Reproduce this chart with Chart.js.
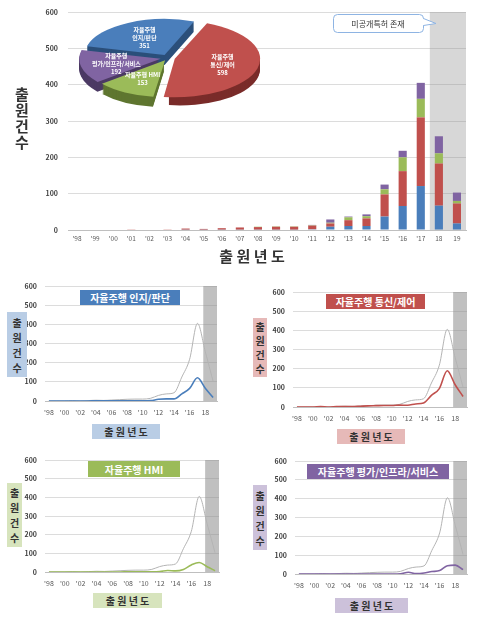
<!DOCTYPE html>
<html>
<head>
<meta charset="utf-8">
<script src="https://cdn.jsdelivr.net/npm/chart.js@4.4.1/dist/chart.umd.min.js"></script>
<style>
  body { margin: 0; width: 478px; height: 619px; position: relative; background: #fff; overflow: hidden; font-family: 'Noto Sans CJK KR', sans-serif; }
  canvas { position: absolute; }
  .box { position: absolute; display: flex; align-items: center; justify-content: center; font-weight: bold; white-space: nowrap; }
  .vt { position: absolute; text-align: center; font-weight: bold; color: #333; }
</style>
</head>
<body>
<canvas id="main" width="478" height="270" style="left:0;top:0"></canvas>
<canvas id="pie" width="190" height="190" style="left:73px;top:0;pointer-events:none"></canvas>
<canvas id="p1" width="230" height="145" style="left:0;top:280px"></canvas>
<canvas id="p2" width="238" height="145" style="left:240px;top:285px"></canvas>
<canvas id="p3" width="232" height="145" style="left:0;top:452px"></canvas>
<canvas id="p4" width="238" height="145" style="left:240px;top:453px"></canvas>

<div class="vt" style="left:10px;top:86px;width:24px;font-size:15px;line-height:16px">출<br>원<br>건<br>수</div>
<div class="vt" style="left:200px;top:246px;width:104px;font-size:15px;line-height:20px">출 원 년 도</div>

<div class="box" style="left:80px;top:290px;width:100px;height:15px;background:#4a7ebb;color:#fff;font-size:10px">자율주행 인지/판단</div>
<div class="box" style="left:7px;top:312px;width:20px;height:65px;background:#b9cde5;color:#333;font-size:10px;line-height:15px;text-align:center">출<br>원<br>건<br>수</div>
<div class="box" style="left:92px;top:424px;width:68px;height:15px;background:#b9cde5;color:#333;font-size:10px">출 원 년 도</div>

<div class="box" style="left:326px;top:294px;width:99px;height:15px;background:#c0504d;color:#fff;font-size:10px">자율주행 통신/제어</div>
<div class="box" style="left:253px;top:318px;width:14px;height:59px;background:#e6b9b8;color:#333;font-size:10px;line-height:14px;text-align:center">출<br>원<br>건<br>수</div>
<div class="box" style="left:337px;top:429px;width:68px;height:15px;background:#e6b9b8;color:#333;font-size:10px">출 원 년 도</div>

<div class="box" style="left:88px;top:461px;width:92px;height:16px;background:#9bbb59;color:#fff;font-size:10px">자율주행 HMI</div>
<div class="box" style="left:7px;top:483px;width:15px;height:64px;background:#d7e4bd;color:#333;font-size:10px;line-height:15px;text-align:center">출<br>원<br>건<br>수</div>
<div class="box" style="left:93px;top:593px;width:69px;height:15px;background:#d7e4bd;color:#333;font-size:10px">출 원 년 도</div>

<div class="box" style="left:307px;top:464px;width:142px;height:15px;background:#8064a2;color:#fff;font-size:10px">자율주행 평가/인프라/서비스</div>
<div class="box" style="left:253px;top:485px;width:14px;height:65px;background:#ccc1da;color:#333;font-size:10px;line-height:15px;text-align:center">출<br>원<br>건<br>수</div>
<div class="box" style="left:335px;top:598px;width:73px;height:15px;background:#ccc1da;color:#333;font-size:10px">출 원 년 도</div>

<script>
const years = ["'98", "'99", "'00", "'01", "'02", "'03", "'04", "'05", "'06", "'07", "'08",
  "'09", "'10", "'11", "'12", "'13", "'14", "'15", "'16", "'17", "18", "19"];
// 자율주행 인지/판단
const judge = [0, 0, 0, 0, 0, 0, 1, 1, 1, 1, 1, 1, 1, 2, 9, 11, 11, 37, 66, 121, 67, 18];
// 자율주행 통신/제어
const comm = [0, 0, 0, 2, 0, 2, 3, 2, 4, 6, 7, 8, 8, 10, 9, 16, 21, 61, 96, 189, 116, 55];
// 자율주행 HMI
const hmi = [0, 0, 0, 0, 0, 0, 0, 0, 0, 0, 1, 1, 1, 1, 2, 8, 6, 14, 38, 51, 28, 7];
// 자율주행 평가/인프라/서비스
const infra = [0, 0, 0, 0, 0, 0, 0, 0, 0, 0, 0, 0, 0, 1, 9, 2, 5, 13, 18, 44, 47, 23];

const pieNames = ['자율주행\n인지/판단', '자율주행\n통신/제어', '자율주행 HMI', '자율주행\n평가/인프라/서비스'];
const pieCounts = [351, 598, 153, 192];
const countTicks = [0, 100, 200, 300, 400, 500, 600];
const firstHidden = 20; // '18 onward: 미공개특허 존재

const total = years.map((_, i) => judge[i] + comm[i] + hmi[i] + infra[i]);

const BLUE = '#4a7ebb';
const RED = '#c0504d';
const GREEN = '#9bbb59';
const PURPLE = '#8064a2';
const DARKS = ['#2b4f7a', '#7a2c2a', '#5f7630', '#4c3a64'];

Chart.defaults.font.family = "'Noto Sans CJK KR', 'Noto Sans', sans-serif";

// keep the plot area where layout.padding puts it
function noOverhang(s) {
  s.paddingTop = 0;
  s.paddingBottom = 0;
}

function band(color, toEdge) {
  return {
    id: 'band',
    beforeDatasetsDraw(chart) {
      const { ctx, chartArea: a, scales: { x } } = chart;
      const half = (x.getPixelForValue(1) - x.getPixelForValue(0)) / 2;
      const left = x.getPixelForValue(firstHidden) - (toEdge ? half : 2);
      ctx.save();
      ctx.fillStyle = color;
      ctx.fillRect(left, a.top, a.right - left, a.bottom - a.top);
      ctx.restore();
    }
  };
}

const callout = {
  id: 'callout',
  afterDraw(chart) {
    const ctx = chart.ctx;
    ctx.save();
    ctx.beginPath();
    ctx.roundRect(333.5, 14.5, 90, 18, 4);
    ctx.fillStyle = '#fff';
    ctx.fill();
    ctx.strokeStyle = '#8eb4e3';
    ctx.lineWidth = 1;
    ctx.stroke();
    ctx.beginPath();
    ctx.moveTo(422, 18.5);
    ctx.lineTo(436, 23.5);
    ctx.lineTo(422, 25.5);
    ctx.closePath();
    ctx.fill();
    ctx.beginPath();
    ctx.moveTo(423.5, 18.5);
    ctx.lineTo(436, 23.5);
    ctx.lineTo(423.5, 25.5);
    ctx.stroke();
    ctx.fillStyle = '#333';
    ctx.font = "8px 'Noto Sans CJK KR'";
    ctx.textAlign = 'center';
    ctx.textBaseline = 'middle';
    ctx.fillText('미공개특허 존재', 378, 23.5);
    ctx.restore();
  }
};

new Chart(document.getElementById('main'), {
  type: 'bar',
  data: {
    labels: years,
    datasets: [
      { label: '자율주행 인지/판단', data: judge, backgroundColor: BLUE },
      { label: '자율주행 통신/제어', data: comm, backgroundColor: RED },
      { label: '자율주행 HMI', data: hmi, backgroundColor: GREEN },
      { label: '자율주행 평가/인프라/서비스', data: infra, backgroundColor: PURPLE }
    ]
  },
  options: {
    responsive: false,
    animation: false,
    devicePixelRatio: 1,
    layout: { padding: { left: 0, right: 12, top: 12, bottom: 0 } },
    plugins: { legend: { display: false }, tooltip: { enabled: false } },
    datasets: { bar: { barPercentage: 0.45, categoryPercentage: 1 } },
    scales: {
      x: {
        stacked: true,
        grid: { display: false, drawTicks: false },
        border: { color: '#bfbfbf' },
        ticks: { color: '#595959', font: { size: 6.5 }, padding: 5, autoSkip: false, maxRotation: 0 },
        afterFit(s) { s.height = 40; }
      },
      y: {
        stacked: true,
        min: countTicks[0],
        max: countTicks[countTicks.length - 1],
        ticks: { stepSize: countTicks[1] - countTicks[0], color: '#404040', font: { size: 7, weight: 'bold' }, padding: 10 },
        grid: { color: '#dcdcdc', drawTicks: false },
        border: { display: false },
        afterFit(s) { s.width = 68; noOverhang(s); }
      }
    }
  },
  plugins: [band('rgba(140,140,140,0.35)', true), callout]
});

// tilted pie with a dark rim underneath
const TILT = 0.45;
const DEPTH = 10;
const PIE_Y = 58;

function shift(arc) {
  const off = (arc.options.offset || 0) / 4;
  const fix = 1 - Math.sin(Math.min(Math.PI, arc.circumference || 0));
  return off * (1 + fix);
}

const tilt = {
  id: 'tilt',
  beforeDatasetsDraw(chart) {
    const ctx = chart.ctx;
    const arcs = chart.getDatasetMeta(0).data;
    const cx = arcs[0].x;
    const cy = arcs[0].y;
    ctx.save();
    ctx.translate(cx, PIE_Y);
    ctx.scale(1, TILT);
    ctx.translate(-cx, -cy);
    for (let d = DEPTH; d > 0; d--) {
      arcs.forEach((arc, i) => {
        const mid = (arc.startAngle + arc.endAngle) / 2;
        const s = shift(arc);
        const x = arc.x + Math.cos(mid) * s;
        const y = arc.y + Math.sin(mid) * s + d / TILT;
        ctx.beginPath();
        ctx.moveTo(x, y);
        ctx.arc(x, y, arc.outerRadius, arc.startAngle, arc.endAngle);
        ctx.closePath();
        ctx.fillStyle = DARKS[i];
        ctx.fill();
      });
    }
  },
  afterDatasetsDraw(chart) {
    const ctx = chart.ctx;
    ctx.restore();
    const arcs = chart.getDatasetMeta(0).data;
    ctx.save();
    ctx.fillStyle = '#fff';
    ctx.font = "bold 6px 'Noto Sans CJK KR'";
    ctx.textAlign = 'center';
    ctx.textBaseline = 'middle';
    arcs.forEach((arc, i) => {
      const mid = (arc.startAngle + arc.endAngle) / 2;
      const r = shift(arc) + arc.outerRadius * 0.55;
      const x = arc.x + Math.cos(mid) * r;
      const y = PIE_Y + Math.sin(mid) * r * TILT;
      const lines = pieNames[i].split('\n').concat(String(pieCounts[i]));
      lines.forEach((t, k) => ctx.fillText(t, x, y + (k - (lines.length - 1) / 2) * 8));
    });
    ctx.restore();
  }
};

new Chart(document.getElementById('pie'), {
  type: 'pie',
  data: {
    labels: pieNames,
    datasets: [{
      data: pieCounts,
      backgroundColor: [BLUE, RED, GREEN, PURPLE],
      offset: [30, 28, 24, 30],
      borderWidth: 0,
      clip: false
    }]
  },
  options: {
    responsive: false,
    animation: false,
    devicePixelRatio: 1,
    rotation: -76,
    plugins: { legend: { display: false }, tooltip: { enabled: false } }
  },
  plugins: [tilt]
});

function panel(id, series, color, pad, yWidth, xHeight) {
  new Chart(document.getElementById(id), {
    type: 'line',
    data: {
      labels: years,
      datasets: [
        { data: series, borderColor: color, borderWidth: 1.6, pointRadius: 0, cubicInterpolationMode: 'monotone' },
        { data: total, borderColor: '#b4b4b4', borderWidth: 1, pointRadius: 0, cubicInterpolationMode: 'monotone' }
      ]
    },
    options: {
      responsive: false,
      animation: false,
      devicePixelRatio: 1,
      layout: { padding: pad },
      plugins: { legend: { display: false }, tooltip: { enabled: false } },
      scales: {
        x: {
          offset: true,
          grid: { display: false, drawTicks: false },
          border: { color: '#bfbfbf' },
          ticks: {
            color: '#595959', font: { size: 7 }, padding: 7, autoSkip: false, maxRotation: 0,
            callback: (v, i) => (i % 2 === 0 ? years[i] : '')
          },
          afterFit(s) { s.height = xHeight; }
        },
        y: {
          min: countTicks[0],
          max: countTicks[countTicks.length - 1],
          ticks: { stepSize: countTicks[1] - countTicks[0], color: '#404040', font: { size: 7, weight: 'bold' }, padding: 8 },
          grid: { color: '#dcdcdc', drawTicks: false },
          border: { display: false },
          afterFit(s) { s.width = yWidth; noOverhang(s); }
        }
      }
    },
    plugins: [band('rgba(140,140,140,0.55)', false)]
  });
}

panel('p1', judge, BLUE, { left: 0, right: 13, top: 6, bottom: 0 }, 45, 24);
panel('p2', comm, RED, { left: 0, right: 11, top: 7, bottom: 0 }, 53, 23);
panel('p3', hmi, GREEN, { left: 0, right: 13, top: 8, bottom: 0 }, 45, 25);
panel('p4', infra, PURPLE, { left: 0, right: 11, top: 8, bottom: 0 }, 55, 24);
</script>
</body>
</html>
